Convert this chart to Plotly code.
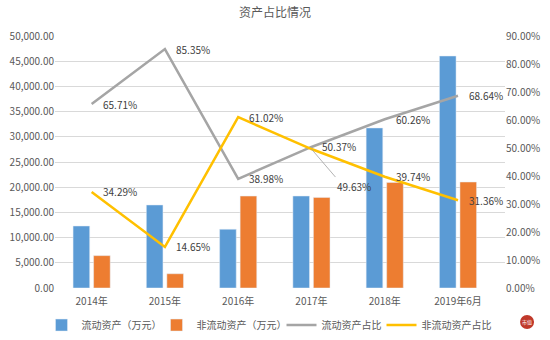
import plotly.graph_objects as go

categories = ["2014年", "2015年", "2016年", "2017年", "2018年", "2019年6月"]
current_assets = [12300, 16470, 11650, 18250, 31750, 46030]
noncurrent_assets = [6420, 2830, 18240, 17980, 20940, 21030]
current_ratio = [65.71, 85.35, 38.98, 50.37, 60.26, 68.64]
noncurrent_ratio = [34.29, 14.65, 61.02, 49.63, 39.74, 31.36]

left_ticks = list(range(0, 50001, 5000))
right_ticks = list(range(0, 91, 10))

BLUE = "#5B9BD5"
ORANGE = "#ED7D31"
GRAY = "#A5A5A5"
YELLOW = "#FFC000"
TEXT = "#595959"
FONT = "Noto Sans CJK SC, sans-serif"

fig = go.Figure()
fig.add_trace(go.Bar(x=categories, y=current_assets, name="流动资产（万元）",
                     marker_color=BLUE, yaxis="y", legendwidth=70))
fig.add_trace(go.Bar(x=categories, y=noncurrent_assets, name="非流动资产（万元）",
                     marker_color=ORANGE, yaxis="y", legendwidth=80))
fig.add_trace(go.Scatter(x=categories, y=current_ratio, name="流动资产占比",
                         mode="lines", line=dict(color=GRAY, width=2.5), yaxis="y2",
                         legendwidth=55))
fig.add_trace(go.Scatter(x=categories, y=noncurrent_ratio, name="非流动资产占比",
                         mode="lines", line=dict(color=YELLOW, width=2.5), yaxis="y2",
                         legendwidth=75))

# percentage labels to the right of each line point
annotations = []
for series in (current_ratio, noncurrent_ratio):
    for cat, v in zip(categories, series):
        ann = dict(x=cat, y=v, xref="x", yref="y2", text=f"{v:.2f}%",
                   showarrow=False, xanchor="left", yanchor="middle", xshift=9,
                   font=dict(size=10, color="#404040", family=FONT))
        if cat == "2017年" and series is noncurrent_ratio:
            ann.update(showarrow=True, arrowhead=0, arrowwidth=0.8, arrowcolor="#A0A0A0",
                       ax=24, ay=28, xshift=0, xanchor="left", yanchor="top")
        annotations.append(ann)

# small red seal in the bottom-right corner
SEAL_X, SEAL_Y, SEAL_R = 1.049, -0.135, 7
annotations.append(dict(x=SEAL_X, y=SEAL_Y, xref="paper", yref="paper", yanchor="middle",
                        xanchor="center", text="市值", showarrow=False,
                        font=dict(size=5, color="white", family=FONT)))
shapes = [dict(type="circle", xref="paper", yref="paper",
               xsizemode="pixel", ysizemode="pixel", xanchor=SEAL_X, yanchor=SEAL_Y,
               x0=-SEAL_R, x1=SEAL_R, y0=-SEAL_R, y1=SEAL_R,
               fillcolor="#C0392B", line=dict(width=0), layer="below")]

fig.update_layout(
    width=550, height=340,
    margin=dict(l=55, r=45, t=36, b=52, autoexpand=False),
    paper_bgcolor="white", plot_bgcolor="white",
    font=dict(family=FONT, size=10, color=TEXT),
    title=dict(text="资产占比情况", x=0.5, xanchor="center", y=0.962, yanchor="middle",
               font=dict(size=12, color=TEXT, family=FONT)),
    barmode="group", bargap=0.44, bargroupgap=0.19,
    xaxis=dict(showgrid=False, showline=False, ticks="", ticklabelstandoff=6,
               tickfont=dict(size=10, color=TEXT)),
    yaxis=dict(range=[0, 50000], tickvals=left_ticks,
               ticktext=[f"{v:,.2f}" for v in left_ticks],
               showgrid=True, gridcolor="#D9D9D9", gridwidth=1, zeroline=False,
               showline=False, ticks="", tickfont=dict(size=10, color=TEXT)),
    yaxis2=dict(range=[0, 90], tickvals=right_ticks,
                ticktext=[f"{v:.2f}%" for v in right_ticks],
                overlaying="y", side="right", showgrid=False, zeroline=False,
                showline=False, ticks="", tickfont=dict(size=10, color=TEXT)),
    legend=dict(orientation="h", x=-0.03, xanchor="left", y=-0.147, yanchor="middle",
                font=dict(size=10, color=TEXT, family=FONT), traceorder="normal",
                itemwidth=30, bgcolor="rgba(0,0,0,0)"),
    annotations=annotations,
    shapes=shapes,
)

fig.write_html("out.html")
